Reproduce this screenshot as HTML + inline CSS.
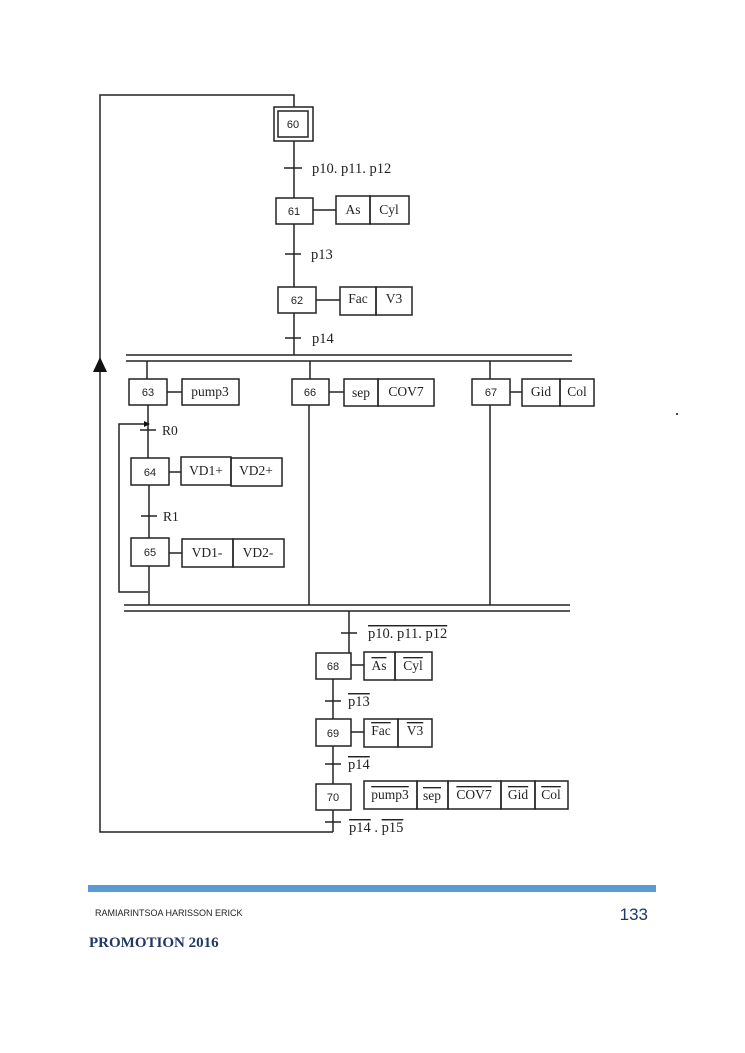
<!DOCTYPE html>
<html><head><meta charset="utf-8"><style>
html,body{margin:0;padding:0;background:#fff;}
svg{display:block;}
.n{font-family:"Liberation Sans",sans-serif;font-size:11px;fill:#222;}
.t{font-family:"Liberation Serif",serif;font-size:13.5px;fill:#222;}
.o{text-decoration:overline;}
</style></head><body>
<svg width="745" height="1053" viewBox="0 0 745 1053" xmlns="http://www.w3.org/2000/svg">
<g stroke="#222" stroke-width="1.5" fill="none">
<polyline points="333,832 100,832 100,95 294,95 294,107"/>
<rect x="274" y="107" width="39" height="34"/>
<rect x="278" y="111" width="30" height="26"/>
<line x1="294" y1="141" x2="294" y2="198"/>
<line x1="284" y1="168" x2="302" y2="168"/>
<rect x="276" y="198" width="37" height="26"/>
<line x1="313" y1="210" x2="336" y2="210"/>
<rect x="336" y="196" width="34" height="28"/><rect x="370" y="196" width="39" height="28"/>
<line x1="294" y1="224" x2="294" y2="287"/>
<line x1="285" y1="254" x2="301" y2="254"/>
<rect x="278" y="287" width="38" height="26"/>
<line x1="316" y1="300" x2="340" y2="300"/>
<rect x="340" y="287" width="36" height="28"/><rect x="376" y="287" width="36" height="28"/>
<line x1="294" y1="313" x2="294" y2="355"/>
<line x1="285" y1="338" x2="301" y2="338"/>
<line x1="126" y1="355" x2="572" y2="355"/>
<line x1="126" y1="361" x2="572" y2="361"/>
<line x1="147" y1="361" x2="147" y2="379"/>
<line x1="310" y1="361" x2="310" y2="379"/>
<line x1="490" y1="361" x2="490" y2="379"/>
<rect x="129" y="379" width="38" height="26"/>
<line x1="167" y1="392" x2="182" y2="392"/>
<rect x="182" y="379" width="57" height="26"/>
<rect x="292" y="379" width="37" height="26"/>
<line x1="329" y1="392" x2="344" y2="392"/>
<rect x="344" y="379" width="34" height="27"/><rect x="378" y="379" width="56" height="27"/>
<rect x="472" y="379" width="38" height="26"/>
<line x1="510" y1="392" x2="522" y2="392"/>
<rect x="522" y="379" width="38" height="27"/><rect x="560" y="379" width="34" height="27"/>
<line x1="148" y1="405" x2="148" y2="458"/>
<line x1="140" y1="430" x2="156" y2="430"/>
<polyline points="148,592 119,592 119,424 148,424"/>
<rect x="131" y="458" width="38" height="27"/>
<line x1="169" y1="472" x2="181" y2="472"/>
<rect x="181" y="457" width="50" height="28"/><rect x="231" y="458" width="51" height="28"/>
<line x1="149" y1="485" x2="149" y2="538"/>
<line x1="141" y1="516" x2="157" y2="516"/>
<rect x="131" y="538" width="38" height="28"/>
<line x1="169" y1="553" x2="182" y2="553"/>
<rect x="182" y="539" width="51" height="28"/><rect x="233" y="539" width="51" height="28"/>
<line x1="149" y1="566" x2="149" y2="605"/>
<line x1="309" y1="405" x2="309" y2="605"/>
<line x1="490" y1="405" x2="490" y2="605"/>
<line x1="124" y1="605" x2="570" y2="605"/>
<line x1="124" y1="611" x2="570" y2="611"/>
<line x1="349" y1="611" x2="349" y2="653"/>
<line x1="341" y1="633" x2="357" y2="633"/>
<rect x="316" y="653" width="35" height="26"/>
<line x1="351" y1="665" x2="364" y2="665"/>
<rect x="364" y="652" width="31" height="28"/><rect x="395" y="652" width="37" height="28"/>
<line x1="333" y1="679" x2="333" y2="719"/>
<line x1="325" y1="701" x2="341" y2="701"/>
<rect x="316" y="719" width="35" height="27"/>
<line x1="351" y1="732" x2="364" y2="732"/>
<rect x="364" y="719" width="34" height="28"/><rect x="398" y="719" width="34" height="28"/>
<line x1="333" y1="746" x2="333" y2="784"/>
<line x1="325" y1="764" x2="341" y2="764"/>
<rect x="316" y="784" width="35" height="26"/>
<rect x="364" y="781" width="53" height="28"/><rect x="417" y="781" width="31" height="28"/>
<rect x="448" y="781" width="53" height="28"/><rect x="501" y="781" width="34" height="28"/>
<rect x="535" y="781" width="33" height="28"/>
<line x1="333" y1="810" x2="333" y2="832"/>
<line x1="325" y1="822" x2="341" y2="822"/>
</g>
<polygon points="100,357 93,372 107,372" fill="#111"/>
<polygon points="150,424 144,421 144,427" fill="#111"/>
<rect x="676" y="413" width="2" height="2" fill="#446"/>
<g class="n" text-anchor="middle">
<text x="293" y="128">60</text><text x="294" y="215">61</text><text x="297" y="304">62</text>
<text x="148" y="396">63</text><text x="310" y="396">66</text><text x="491" y="396">67</text>
<text x="150" y="476">64</text><text x="150" y="556">65</text>
<text x="333" y="670">68</text><text x="333" y="737">69</text><text x="333" y="801">70</text>
</g>
<g class="t" style="font-size:14.5px">
<text x="312" y="173">p10. p11. p12</text>
<text x="311" y="259">p13</text>
<text x="312" y="343">p14</text>
<text x="368" y="638" class="o">p10. p11. p12</text>
<text x="348" y="706" class="o">p13</text>
<text x="348" y="769" class="o">p14</text>
<text x="349" y="832"><tspan class="o">p14</tspan> . <tspan class="o">p15</tspan></text>
</g>
<g class="t">
<text x="162" y="435">R0</text><text x="163" y="521">R1</text>
</g>
<g class="t" text-anchor="middle">
<text x="353" y="214">As</text><text x="389" y="214">Cyl</text>
<text x="358" y="303">Fac</text><text x="394" y="303">V3</text>
<text x="210" y="396">pump3</text>
<text x="361" y="397">sep</text><text x="406" y="396">COV7</text>
<text x="541" y="396">Gid</text><text x="577" y="396">Col</text>
<text x="206" y="475">VD1+</text><text x="256" y="475">VD2+</text>
<text x="207" y="557">VD1-</text><text x="258" y="557">VD2-</text>
<text x="379" y="670" class="o">As</text><text x="413" y="670" class="o">Cyl</text>
<text x="381" y="735" class="o">Fac</text><text x="415" y="735" class="o">V3</text>
<text x="390" y="799" class="o">pump3</text><text x="432" y="800" class="o">sep</text>
<text x="474" y="799" class="o">COV7</text><text x="518" y="799" class="o">Gid</text>
<text x="551" y="799" class="o">Col</text>
</g>
<rect x="88" y="885" width="568" height="7" fill="#5b9bd5"/>
<text x="95" y="916" font-family="Liberation Sans,sans-serif" font-size="9" fill="#222">RAMIARINTSOA HARISSON ERICK</text>
<text x="648" y="920" text-anchor="end" font-family="Liberation Sans,sans-serif" font-size="17" fill="#1f3864">133</text>
<text x="89" y="947" font-family="Liberation Serif,serif" font-size="15" font-weight="bold" fill="#1f3864">PROMOTION 2016</text>
</svg>
</body></html>
